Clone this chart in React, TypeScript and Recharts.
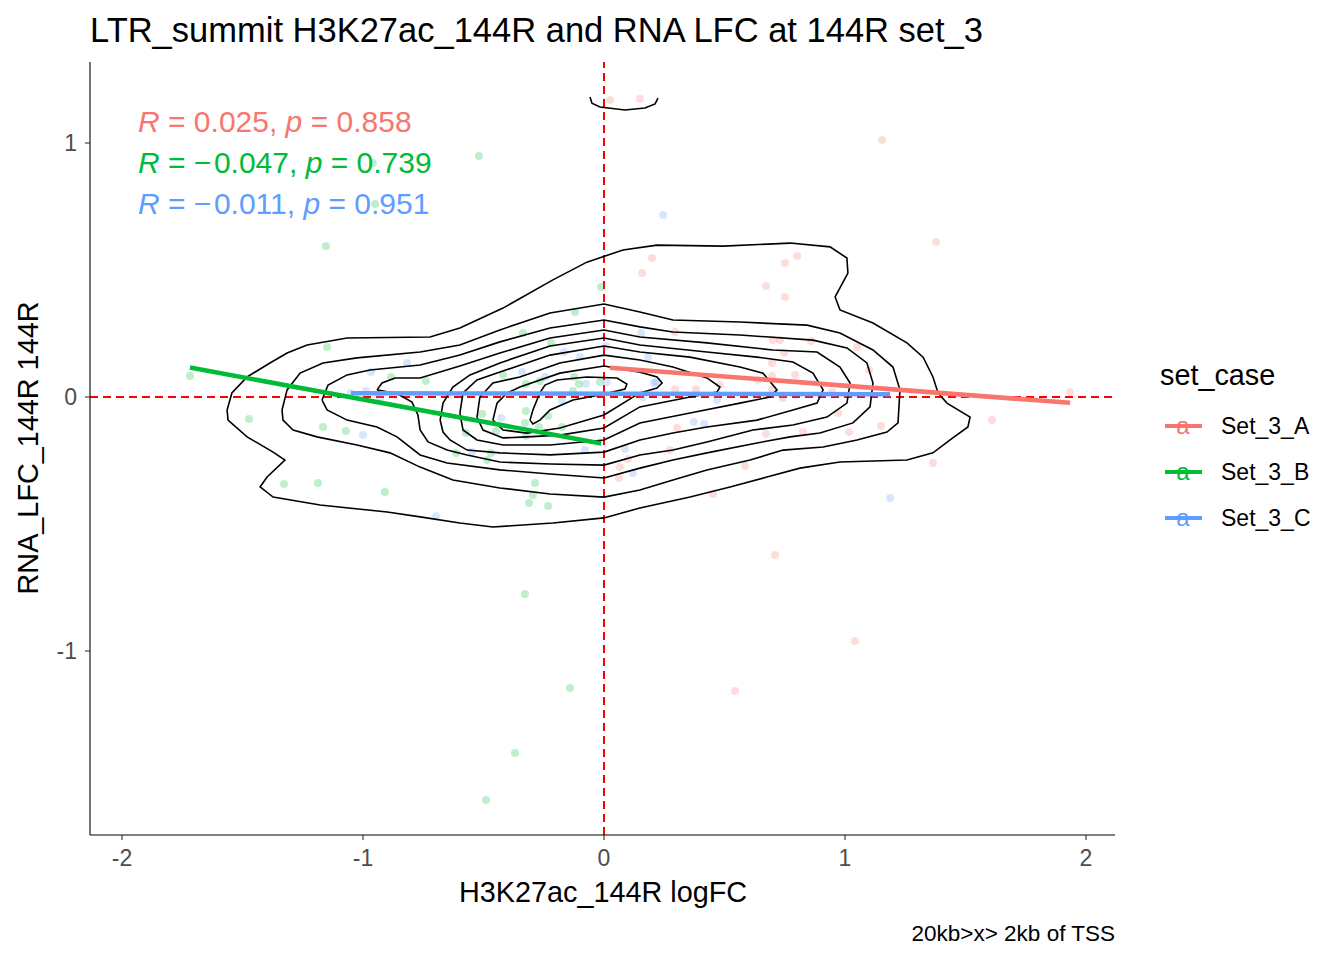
import React from 'react';
import { ScatterChart, Scatter, XAxis, YAxis, ReferenceLine } from 'recharts';

const FONT = '"Liberation Sans", Arial, Helvetica, sans-serif';

const X_MIN = -2.1328;
const X_MAX = 2.1203;
const Y_MIN = -1.7244;
const Y_MAX = 1.3189;
const X_TICKS = [-2, -1, 0, 1, 2];
const Y_TICKS = [-1, 0, 1];

const GROUPS = ['Set_3_A', 'Set_3_B', 'Set_3_C'];
const COLORS = ['#F8766D', '#00BA38', '#619CFF'];
const COR_LABELS = [
  { r: '0.025', p: '0.858' },
  { r: '\u2212\u200A0.047', p: '0.739' },
  { r: '\u2212\u200A0.011', p: '0.951' },
];

// Points: [H3K27ac logFC, RNA LFC]
const setA: [number, number][] = [
  [0.025, 1.169], [0.149, 1.173], [1.154, 1.012], [1.378, 0.61], [0.199, 0.547],
  [0.158, 0.488], [0.801, 0.555], [0.751, 0.528], [0.672, 0.437], [0.751, 0.394],
  [0.295, 0.256], [0.701, 0.224], [0.73, 0.224], [0.859, 0.22], [1.05, 0.197],
  [0.747, 0.173], [0.697, 0.134], [1.1, 0.106], [0.793, 0.087], [0.697, 0.083],
  [0.481, 0.047], [0.382, 0.031], [0.295, 0.031], [0.639, 0.067], [0.697, 0.031],
  [0.946, 0.02], [0.743, -0.004], [0.971, -0.063], [1.149, -0.114], [1.017, -0.138],
  [0.826, -0.138], [0.672, -0.146], [0.303, -0.122], [0.274, -0.209], [0.585, -0.272],
  [0.452, -0.382], [1.365, -0.26], [0.066, -0.276], [0.1, -0.244], [0.062, -0.319],
  [1.934, 0.02], [1.61, -0.091], [0.71, -0.622], [1.041, -0.961], [0.544, -1.157],
];
const setB: [number, number][] = [
  [-0.519, 0.949], [-0.959, 0.921], [-0.95, 0.76], [-1.154, 0.594], [-0.012, 0.433],
  [-0.12, 0.335], [-0.336, 0.252], [-0.22, 0.213], [-1.149, 0.197], [-1.718, 0.083],
  [-0.884, 0.079], [-0.739, 0.063], [-0.419, 0.087], [-0.266, 0.063], [-0.124, 0.079],
  [-0.104, 0.051], [-0.017, 0.059], [-0.324, 0.051], [-0.129, 0.024], [-1.473, -0.087],
  [-1.166, -0.118], [-1.071, -0.134], [-0.324, -0.055], [-0.232, -0.075], [-0.506, -0.067],
  [-0.328, -0.102], [-0.27, -0.118], [-0.174, -0.118], [-0.573, -0.142], [-0.448, -0.134],
  [-0.324, -0.154], [-0.614, -0.22], [-0.485, -0.248], [-0.469, -0.22], [-0.286, -0.339],
  [-0.295, -0.386], [-0.311, -0.417], [-0.232, -0.429], [-1.328, -0.343], [-1.187, -0.339],
  [-0.909, -0.374], [-0.328, -0.776], [-0.141, -1.146], [-0.369, -1.402], [-0.49, -1.587],
];
const setC: [number, number][] = [
  [0.245, 0.717], [0.154, 0.252], [0.008, 0.201], [-0.166, 0.177], [-0.1, 0.157],
  [0.183, 0.157], [-0.817, 0.134], [-0.967, 0.098], [-0.245, 0.079], [-0.075, 0.051],
  [0.012, 0.059], [0.216, 0.059], [-1.05, 0.016], [-0.988, 0.024], [-0.929, -0.004],
  [-0.174, -0.016], [0.162, 0.0], [-0.427, -0.083], [0.469, -0.012], [0.373, -0.098],
  [0.415, -0.106], [-1.0, -0.15], [-0.548, -0.217], [-0.079, -0.209], [0.087, -0.205],
  [0.12, -0.299], [-0.697, -0.469], [1.187, -0.398], [-0.34, 0.098], [0.207, 0.055],
];

// Linear fits per group (end points)
const fitA: [number, number][] = [[0.025, 0.115], [1.934, -0.023]];
const fitB: [number, number][] = [[-1.718, 0.116], [-0.012, -0.183]];
const fitC: [number, number][] = [[-1.05, 0.015], [1.187, 0.011]];

// 2D density contour lines
const contour1: [number, number][] = [
  [-1.564, -0.051], [-1.544, 0.016], [-1.481, 0.079], [-1.386, 0.134], [-1.315, 0.173],
  [-1.232, 0.205], [-1.066, 0.232], [-0.722, 0.236], [-0.598, 0.272], [-0.419, 0.35],
  [-0.212, 0.461], [-0.071, 0.531], [0.079, 0.579], [0.22, 0.598], [0.494, 0.594],
  [0.772, 0.606], [0.938, 0.591], [1.008, 0.547], [1.012, 0.488], [0.959, 0.394],
  [0.979, 0.343], [1.116, 0.291], [1.257, 0.213], [1.324, 0.157], [1.365, 0.079],
  [1.386, 0.016], [1.423, -0.024], [1.519, -0.079], [1.51, -0.118], [1.436, -0.169],
  [1.365, -0.22], [1.257, -0.248], [0.979, -0.256], [0.813, -0.28], [0.676, -0.315],
  [0.523, -0.354], [0.357, -0.394], [0.149, -0.437], [0.0, -0.476], [-0.212, -0.496],
  [-0.461, -0.512], [-0.598, -0.496], [-0.763, -0.472], [-0.9, -0.453], [-1.178, -0.425],
  [-1.373, -0.394], [-1.427, -0.354], [-1.398, -0.315], [-1.324, -0.248], [-1.373, -0.217],
  [-1.481, -0.157], [-1.56, -0.091],
];
const contour2: [number, number][] = [
  [-1.336, -0.051], [-1.315, 0.028], [-1.261, 0.094], [-1.166, 0.134], [-1.025, 0.154],
  [-0.763, 0.177], [-0.598, 0.205], [-0.432, 0.264], [-0.224, 0.331], [0.0, 0.366],
  [0.149, 0.335], [0.286, 0.303], [0.564, 0.295], [0.842, 0.283], [0.979, 0.252],
  [1.116, 0.185], [1.199, 0.118], [1.228, 0.028], [1.22, -0.102], [1.174, -0.138],
  [1.05, -0.169], [0.909, -0.197], [0.743, -0.209], [0.606, -0.248], [0.427, -0.287],
  [0.286, -0.327], [0.149, -0.366], [0.0, -0.394], [-0.224, -0.382], [-0.432, -0.358],
  [-0.627, -0.327], [-0.763, -0.276], [-0.888, -0.22], [-1.025, -0.189], [-1.191, -0.157],
  [-1.29, -0.13], [-1.332, -0.091],
];
const contour3: [number, number][] = [
  [-1.17, -0.012], [-1.145, 0.047], [-1.066, 0.087], [-0.971, 0.106], [-0.763, 0.126],
  [-0.598, 0.165], [-0.432, 0.217], [-0.224, 0.272], [0.0, 0.303], [0.149, 0.276],
  [0.286, 0.256], [0.564, 0.244], [0.867, 0.224], [1.008, 0.193], [1.091, 0.134],
  [1.116, 0.055], [1.104, -0.039], [1.033, -0.102], [0.896, -0.142], [0.772, -0.157],
  [0.635, -0.181], [0.427, -0.22], [0.286, -0.248], [0.149, -0.28], [0.0, -0.319],
  [-0.224, -0.303], [-0.432, -0.287], [-0.651, -0.26], [-0.763, -0.228], [-0.859, -0.157],
  [-0.942, -0.118], [-1.066, -0.091], [-1.149, -0.051],
];
const contour4: [number, number][] = [
  [-0.942, 0.028], [-0.921, 0.055], [-0.867, 0.075], [-0.763, 0.075], [-0.598, 0.122],
  [-0.432, 0.173], [-0.224, 0.232], [0.0, 0.264], [0.149, 0.236], [0.427, 0.213],
  [0.701, 0.185], [0.884, 0.177], [0.979, 0.118], [1.021, 0.055], [1.008, -0.024],
  [0.925, -0.079], [0.784, -0.11], [0.618, -0.13], [0.427, -0.177], [0.286, -0.209],
  [0.149, -0.228], [0.0, -0.268], [-0.224, -0.264], [-0.432, -0.256], [-0.568, -0.228],
  [-0.651, -0.209], [-0.73, -0.177], [-0.763, -0.13], [-0.772, -0.071], [-0.797, -0.02],
  [-0.855, 0.012],
];
const contour5: [number, number][] = [
  [-0.68, -0.091], [-0.668, -0.024], [-0.627, 0.039], [-0.556, 0.087], [-0.432, 0.134],
  [-0.224, 0.201], [0.0, 0.232], [0.149, 0.205], [0.427, 0.177], [0.635, 0.157],
  [0.784, 0.138], [0.867, 0.094], [0.909, 0.028], [0.884, -0.024], [0.784, -0.051],
  [0.635, -0.091], [0.427, -0.118], [0.286, -0.142], [0.149, -0.169], [0.0, -0.217],
  [-0.224, -0.228], [-0.432, -0.22], [-0.568, -0.209], [-0.639, -0.169], [-0.668, -0.138],
];
const contour6: [number, number][] = [
  [-0.598, -0.063], [-0.585, 0.016], [-0.527, 0.067], [-0.432, 0.098], [-0.224, 0.165],
  [0.0, 0.201], [0.149, 0.177], [0.357, 0.157], [0.564, 0.118], [0.66, 0.094],
  [0.718, 0.028], [0.689, 0.0], [0.564, -0.024], [0.357, -0.063], [0.149, -0.102],
  [0.0, -0.169], [-0.224, -0.189], [-0.419, -0.189], [-0.527, -0.169], [-0.585, -0.13],
];
const contour7: [number, number][] = [
  [-0.527, -0.079], [-0.515, 0.0], [-0.461, 0.055], [-0.349, 0.079], [-0.183, 0.134],
  [0.0, 0.165], [0.149, 0.146], [0.286, 0.118], [0.427, 0.075], [0.481, 0.039],
  [0.469, 0.02], [0.357, 0.0], [0.149, -0.039], [0.0, -0.122], [-0.183, -0.15],
  [-0.32, -0.157], [-0.419, -0.161], [-0.502, -0.13],
];
const contour8: [number, number][] = [
  [-0.461, -0.091], [-0.444, -0.024], [-0.402, 0.016], [-0.349, 0.039], [-0.183, 0.094],
  [0.0, 0.122], [0.149, 0.098], [0.22, 0.079], [0.241, 0.055], [0.22, 0.035],
  [0.149, 0.016], [0.0, -0.071], [-0.183, -0.122], [-0.32, -0.142], [-0.419, -0.13],
];
const contour9: [number, number][] = [
  [-0.307, -0.091], [-0.295, -0.051], [-0.266, 0.016], [-0.245, 0.047], [-0.195, 0.067],
  [-0.071, 0.079], [0.054, 0.075], [0.095, 0.051], [0.087, 0.031], [-0.017, 0.008],
  [-0.129, -0.012], [-0.224, -0.051], [-0.266, -0.091], [-0.295, -0.106],
];
const contourTop: [number, number][] = [
  [-0.058, 1.181], [-0.05, 1.157], [-0.017, 1.142], [0.087, 1.13], [0.17, 1.138],
  [0.212, 1.154], [0.224, 1.177],
];

const toXY = (a: [number, number][]) => a.map(([x, y]) => ({ x, y }));
const closed = (a: [number, number][]) => toXY([...a, a[0]]);

const CLOSED_CONTOURS = [contour1, contour2, contour3, contour4, contour5, contour6, contour7, contour8, contour9];
const POINT_SETS = [setA, setB, setC];
const FITS = [fitA, fitB, fitC];

const Empty = () => <g />;

const makeDot = (color: string) => (props: any) => {
  const { cx, cy } = props;
  if (cx == null || cy == null) return <g />;
  return <circle cx={cx} cy={cy} r={4} fill={color} fillOpacity={0.25} stroke="none" />;
};

export default function App() {
  return (
    <div style={{ position: 'absolute', left: 0, top: 0, width: 1344, height: 960, background: '#fff', fontFamily: FONT }}>
      <ScatterChart width={1344} height={960} margin={{ top: 62, right: 229, bottom: 65, left: 30 }}>
        <XAxis
          type="number"
          dataKey="x"
          domain={[X_MIN, X_MAX]}
          ticks={X_TICKS}
          allowDataOverflow
          interval={0}
          height={60}
          tickSize={5}
          tickMargin={10}
          axisLine={{ stroke: '#000', strokeWidth: 1.1 }}
          tickLine={{ stroke: '#333', strokeWidth: 1.1 }}
          tick={{ fill: '#4D4D4D', fontSize: 23, fontFamily: FONT }}
        />
        <YAxis
          type="number"
          dataKey="y"
          domain={[Y_MIN, Y_MAX]}
          ticks={Y_TICKS}
          allowDataOverflow
          interval={0}
          width={60}
          tickSize={5}
          tickMargin={8}
          axisLine={{ stroke: '#000', strokeWidth: 1.1 }}
          tickLine={{ stroke: '#333', strokeWidth: 1.1 }}
          tick={{ fill: '#4D4D4D', fontSize: 23, fontFamily: FONT }}
        />
        {POINT_SETS.map((s, i) => (
          <Scatter key={'pts' + i} data={toXY(s)} fill={COLORS[i]} shape={makeDot(COLORS[i])} isAnimationActive={false} />
        ))}
        {CLOSED_CONTOURS.map((c, i) => (
          <Scatter
            key={'ct' + i}
            data={closed(c)}
            fill="#000"
            line={{ stroke: '#000', strokeWidth: 1.6 }}
            lineJointType="linear"
            shape={Empty}
            isAnimationActive={false}
          />
        ))}
        <Scatter
          data={toXY(contourTop)}
          fill="#000"
          line={{ stroke: '#000', strokeWidth: 1.6 }}
          lineJointType="linear"
          shape={Empty}
          isAnimationActive={false}
        />
        {FITS.map((f, i) => (
          <Scatter
            key={'fit' + i}
            data={toXY(f)}
            fill={COLORS[i]}
            line={{ stroke: COLORS[i], strokeWidth: 4.5 }}
            shape={Empty}
            isAnimationActive={false}
          />
        ))}
        <ReferenceLine y={0} stroke="#FF0000" strokeWidth={2} strokeDasharray="8 5" />
        <ReferenceLine x={0} stroke="#FF0000" strokeWidth={2} strokeDasharray="8 5" />
      </ScatterChart>
      <svg width={1344} height={960} style={{ position: 'absolute', left: 0, top: 0, pointerEvents: 'none' }}>
        <text x={90} y={42} fontSize={34.5} fill="#000" fontFamily={FONT}>
          LTR_summit H3K27ac_144R and RNA LFC at 144R set_3
        </text>
        {COR_LABELS.map((c, i) => (
          <text key={'cor' + i} x={138} y={132 + i * 41} fontSize={30} fill={COLORS[i]} fontFamily={FONT}>
            <tspan fontStyle="italic">R</tspan>
            {' = ' + c.r + ', '}
            <tspan fontStyle="italic">p</tspan>
            {' = ' + c.p}
          </text>
        ))}
        <text x={603} y={902} fontSize={28.8} fill="#000" textAnchor="middle" fontFamily={FONT}>
          H3K27ac_144R logFC
        </text>
        <text
          x={0}
          y={0}
          fontSize={28.8}
          fill="#000"
          textAnchor="middle"
          fontFamily={FONT}
          transform="translate(38,448) rotate(-90)"
        >
          RNA_LFC_144R 144R
        </text>
        <text x={1115} y={941} fontSize={22.5} fill="#000" textAnchor="end" fontFamily={FONT}>
          20kb&gt;x&gt; 2kb of TSS
        </text>
        <text x={1160} y={385} fontSize={28.8} fill="#000" fontFamily={FONT}>
          set_case
        </text>
        {GROUPS.map((g, i) => {
          const ky = 426 + i * 46;
          return (
            <g key={'lg' + i}>
              <line x1={1165} x2={1202} y1={ky} y2={ky} stroke={COLORS[i]} strokeWidth={4} />
              <text x={1183} y={ky + 8} fontSize={24} fill={COLORS[i]} textAnchor="middle" fontFamily={FONT}>
                a
              </text>
              <text x={1221} y={ky + 8} fontSize={23} fill="#000" fontFamily={FONT}>
                {g}
              </text>
            </g>
          );
        })}
      </svg>
    </div>
  );
}
